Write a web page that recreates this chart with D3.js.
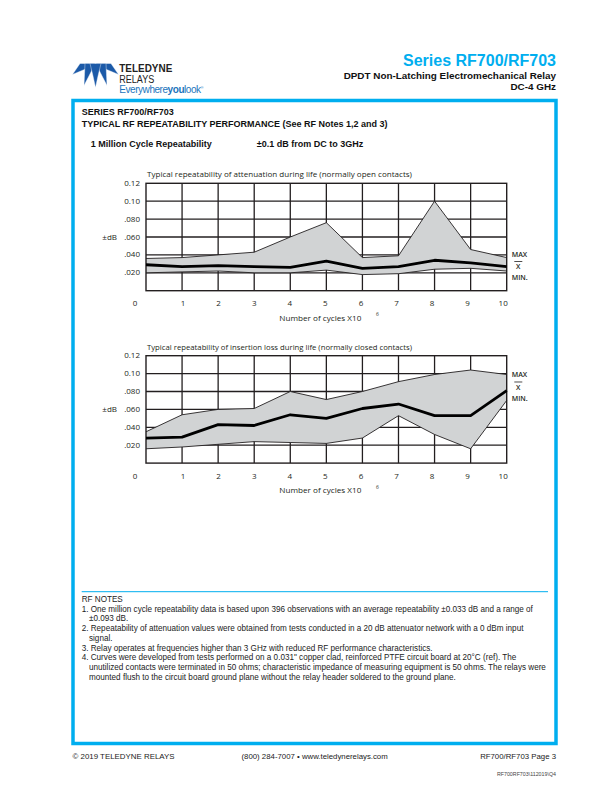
<!DOCTYPE html>
<html>
<head>
<meta charset="utf-8">
<script src="https://cdn.jsdelivr.net/npm/d3@7"></script>
<style>
body { margin: 0; background: #fff; }
</style>
</head>
<body>
<svg id="page"></svg>
<script>
// values (dB vs cycles x10^6)
const cycles = [0, 1, 2, 3, 4, 5, 6, 7, 8, 9, 10];
const yTicks = [0.02, 0.04, 0.06, 0.08, 0.10, 0.12];
const yTickLabels = [".020", ".040", ".060", ".080", "0.10", "0.12"];
const xTickLabels = ["1", "2", "3", "4", "5", "6", "7", "8", "9", "10"];

const attenMax  = [0.036, 0.037, 0.040, 0.043, 0.060, 0.076, 0.037, 0.039, 0.100, 0.046, 0.037];
const attenMean = [0.029, 0.027, 0.028, 0.027, 0.026, 0.033, 0.025, 0.027, 0.034, 0.031, 0.027];
const attenMin  = [0.020, 0.021, 0.022, 0.020, 0.020, 0.023, 0.018, 0.019, 0.024, 0.025, 0.022];

const insMax  = [0.035, 0.054, 0.060, 0.061, 0.080, 0.071, 0.080, 0.091, 0.099, 0.104, 0.099];
const insMean = [0.028, 0.029, 0.043, 0.042, 0.054, 0.050, 0.061, 0.066, 0.053, 0.053, 0.081];
const insMin  = [0.016, 0.018, 0.021, 0.024, 0.023, 0.022, 0.028, 0.053, 0.032, 0.016, 0.070];

const notes = [
  ["1. One million cycle repeatability data is based upon 396 observations with an average repeatability \u00b10.033 dB and a range of", "\u00b10.093 dB."],
  ["2. Repeatability of attenuation values were obtained from tests conducted in a 20 dB attenuator network with a 0 dBm input", "signal."],
  ["3. Relay operates at frequencies higher than 3 GHz with reduced RF performance characteristics."],
  ["4. Curves were developed from tests performed on a 0.031\" copper clad, reinforced PTFE circuit board at 20\u00b0C (ref). The",
   "unutilized contacts were terminated in 50 ohms; characteristic impedance of measuring equipment is 50 ohms. The relays were",
   "mounted flush to the circuit board ground plane without the relay header soldered to the ground plane."]
];

const blue = "#00aeef";
const ink = "#231f20";
const arial = "'Liberation Sans', Arial, sans-serif";
const myriad = "'Open Sans', 'Noto Sans', sans-serif";

const svg = d3.select("#page")
  .attr("width", 612)
  .attr("height", 792)
  .attr("viewBox", [0, 0, 612, 792]);

// ---- header ----
const logo = svg.append("g").attr("fill", "#1c5aa8")
  .attr("stroke", "#fff").attr("stroke-width", 0.4).attr("stroke-linejoin", "round");
const blades = [
  [[80, 63.5], [95, 63.5], [88, 68], [72.5, 74.5]],
  [[96, 63.5], [111, 63.5], [118.5, 74.5], [103, 68]],
  [[85, 63.5], [95, 63.5], [91, 72], [84, 85.5]],
  [[96, 63.5], [106, 63.5], [107, 85.5], [100, 72]],
  [[90, 63.5], [101, 63.5], [98, 76], [95.5, 87.5], [93, 76]]
];
blades.forEach(p => logo.append("path").attr("d", "M" + p.join("L") + "Z"));

svg.append("text").attr("x", 119.3).attr("y", 72)
  .attr("font-family", arial).attr("font-weight", "bold").attr("font-size", 10)
  .attr("textLength", 53).attr("lengthAdjust", "spacingAndGlyphs")
  .attr("fill", "#222").text("TELEDYNE");
svg.append("text").attr("x", 119.3).attr("y", 82.7)
  .attr("font-family", arial).attr("font-size", 10)
  .attr("textLength", 35).attr("lengthAdjust", "spacingAndGlyphs")
  .attr("fill", "#222").text("RELAYS");
const tag = svg.append("text").attr("x", 119.3).attr("y", 92.7)
  .attr("font-family", arial).attr("font-size", 10).attr("fill", "#1b75bc")
  .attr("letter-spacing", -0.45);
tag.append("tspan").text("Everywhere");
tag.append("tspan").attr("font-weight", "bold").text("you");
tag.append("tspan").text("look");
tag.append("tspan").attr("font-size", 4).attr("dy", -4).text("\u00ae");

svg.append("text").attr("x", 556).attr("y", 66).attr("text-anchor", "end")
  .attr("font-family", arial).attr("font-weight", "bold").attr("font-size", 16)
  .attr("fill", blue).text("Series RF700/RF703");
svg.append("text").attr("x", 556).attr("y", 78.8).attr("text-anchor", "end")
  .attr("font-family", arial).attr("font-weight", "bold").attr("font-size", 9.9)
  .attr("fill", "#111").text("DPDT Non-Latching Electromechanical Relay");
svg.append("text").attr("x", 556).attr("y", 90.4).attr("text-anchor", "end")
  .attr("font-family", arial).attr("font-weight", "bold").attr("font-size", 9.9)
  .attr("fill", "#111").text("DC-4 GHz");

// ---- blue frame ----
svg.append("rect").attr("x", 73).attr("y", 100.5).attr("width", 483).attr("height", 643)
  .attr("fill", "none").attr("stroke", blue).attr("stroke-width", 3.5);

const head = svg.append("g").attr("font-family", arial).attr("font-weight", "bold")
  .attr("font-size", 9).attr("fill", "#111");
head.append("text").attr("x", 81.7).attr("y", 115).text("SERIES RF700/RF703");
head.append("text").attr("x", 81.7).attr("y", 126.7).text("TYPICAL RF REPEATABILITY PERFORMANCE (See RF Notes 1,2 and 3)");
head.append("text").attr("x", 90.7).attr("y", 146.7).text("1 Million Cycle Repeatability");
head.append("text").attr("x", 256.7).attr("y", 146.7).text("\u00b10.1 dB from DC to 3GHz");

// ---- charts ----
const chart = (top, title, maxV, meanV, minV, legendAt) => {
  const g = svg.append("g");
  const x = d3.scaleLinear().domain([0, 10]).range([146, 506.7]);
  const y = d3.scaleLinear().domain([0, 0.12]).range([top + 107.4, top]);

  g.append("text").attr("x", 147).attr("y", top - 6)
    .attr("font-family", myriad).attr("font-size", 7.8).attr("fill", ink)
    .attr("textLength", 265).attr("lengthAdjust", "spacingAndGlyphs")
    .text(title);

  // grid
  g.selectAll(".vg").data(cycles.slice(1, 10)).join("line")
    .attr("x1", d => x(d)).attr("x2", d => x(d))
    .attr("y1", y(0)).attr("y2", y(0.12))
    .attr("stroke", ink).attr("stroke-width", 1.3);
  g.selectAll(".hg").data(yTicks.slice(0, 5)).join("line")
    .attr("x1", x(0)).attr("x2", x(10))
    .attr("y1", d => y(d)).attr("y2", d => y(d))
    .attr("stroke", ink).attr("stroke-width", 1.3);

  const area = d3.area()
    .x((d, i) => x(cycles[i]))
    .y0((d, i) => y(minV[i]))
    .y1(d => y(d));
  g.append("path").datum(maxV).attr("d", area).attr("fill", "#d1d3d4");

  g.append("rect").attr("x", x(0)).attr("y", y(0.12))
    .attr("width", x(10) - x(0)).attr("height", y(0) - y(0.12))
    .attr("fill", "none").attr("stroke", ink).attr("stroke-width", 1.4);

  const line = d3.line().x((d, i) => x(cycles[i])).y(d => y(d));
  g.append("path").datum(maxV).attr("d", line).attr("fill", "none")
    .attr("stroke", ink).attr("stroke-width", 0.9);
  g.append("path").datum(minV).attr("d", line).attr("fill", "none")
    .attr("stroke", ink).attr("stroke-width", 0.9);
  g.append("path").datum(meanV).attr("d", line).attr("fill", "none")
    .attr("stroke", "#000").attr("stroke-width", 2.8).attr("stroke-linejoin", "round");

  // axis labels
  const lab = g.append("g").attr("font-family", myriad).attr("font-size", 8).attr("fill", ink);
  lab.selectAll(".yl").data(yTicks).join("text")
    .attr("x", 140).attr("y", d => y(d) + 2.5).attr("text-anchor", "end")
    .text((d, i) => yTickLabels[i]);
  lab.append("text").attr("x", 117).attr("y", y(0.06) + 2.5).attr("text-anchor", "end").text("\u00b1dB");
  lab.append("text").attr("x", 135).attr("y", top + 123).attr("text-anchor", "middle").text("0");
  lab.selectAll(".xl").data(cycles.slice(1)).join("text")
    .attr("x", d => x(d) - 0.5 * d + 1.5).attr("y", top + 123).attr("text-anchor", "middle")
    .text((d, i) => xTickLabels[i]);
  lab.append("text").attr("x", 279.3).attr("y", top + 137.5)
    .attr("textLength", 82).attr("lengthAdjust", "spacingAndGlyphs")
    .text("Number of cycles X10");
  lab.append("text").attr("x", 376).attr("y", top + 133).attr("font-size", 5).text("6");

  // MAX / X-bar / MIN key
  const ky = y(legendAt);
  const key = g.append("g").attr("font-family", myriad).attr("font-size", 7)
    .attr("font-weight", 600).attr("fill", ink);
  key.append("text").attr("x", 511.7).attr("y", ky + 2.5).text("MAX");
  key.append("line").attr("x1", 514.3).attr("x2", 522.3)
    .attr("y1", ky + 7.5).attr("y2", ky + 7.5).attr("stroke", ink).attr("stroke-width", 0.8);
  key.append("text").attr("x", 518.3).attr("y", ky + 15.2).attr("text-anchor", "middle").text("X");
  key.append("text").attr("x", 511.7).attr("y", ky + 26.2).text("MIN.");
};

chart(183.3, "Typical repeatability of attenuation during life (normally open contacts)",
  attenMax, attenMean, attenMin, 0.041);
chart(355.7, "Typical repeatability of insertion loss during life (normally closed contacts)",
  insMax, insMean, insMin, 0.099);

// ---- notes ----
svg.append("line").attr("x1", 81.7).attr("x2", 548).attr("y1", 591.7).attr("y2", 591.7)
  .attr("stroke", blue).attr("stroke-width", 1);
const nt = svg.append("g").attr("font-family", arial).attr("font-size", 8.15).attr("fill", "#222");
nt.append("text").attr("x", 81.7).attr("y", 601.7).text("RF NOTES");
let ny = 611.7;
notes.forEach(n => {
  n.forEach((s, j) => {
    nt.append("text").attr("x", j ? 89 : 81.7).attr("y", ny).text(s);
    ny += 9.7;
  });
});

// ---- footer ----
const ft = svg.append("g").attr("font-family", arial).attr("font-size", 7.8).attr("fill", "#222");
ft.append("text").attr("x", 72.5).attr("y", 759)
  .attr("textLength", 102).attr("lengthAdjust", "spacingAndGlyphs")
  .text("\u00a9 2019 TELEDYNE RELAYS");
ft.append("text").attr("x", 241.5).attr("y", 759).text("(800) 284-7007 \u2022 www.teledynerelays.com");
ft.append("text").attr("x", 556).attr("y", 759).attr("text-anchor", "end").text("RF700/RF703 Page 3");
ft.append("text").attr("x", 556).attr("y", 776).attr("text-anchor", "end")
  .attr("font-size", 5.3).attr("fill", "#444").text("RF700RF703\\112019\\Q4");
</script>
</body>
</html>
